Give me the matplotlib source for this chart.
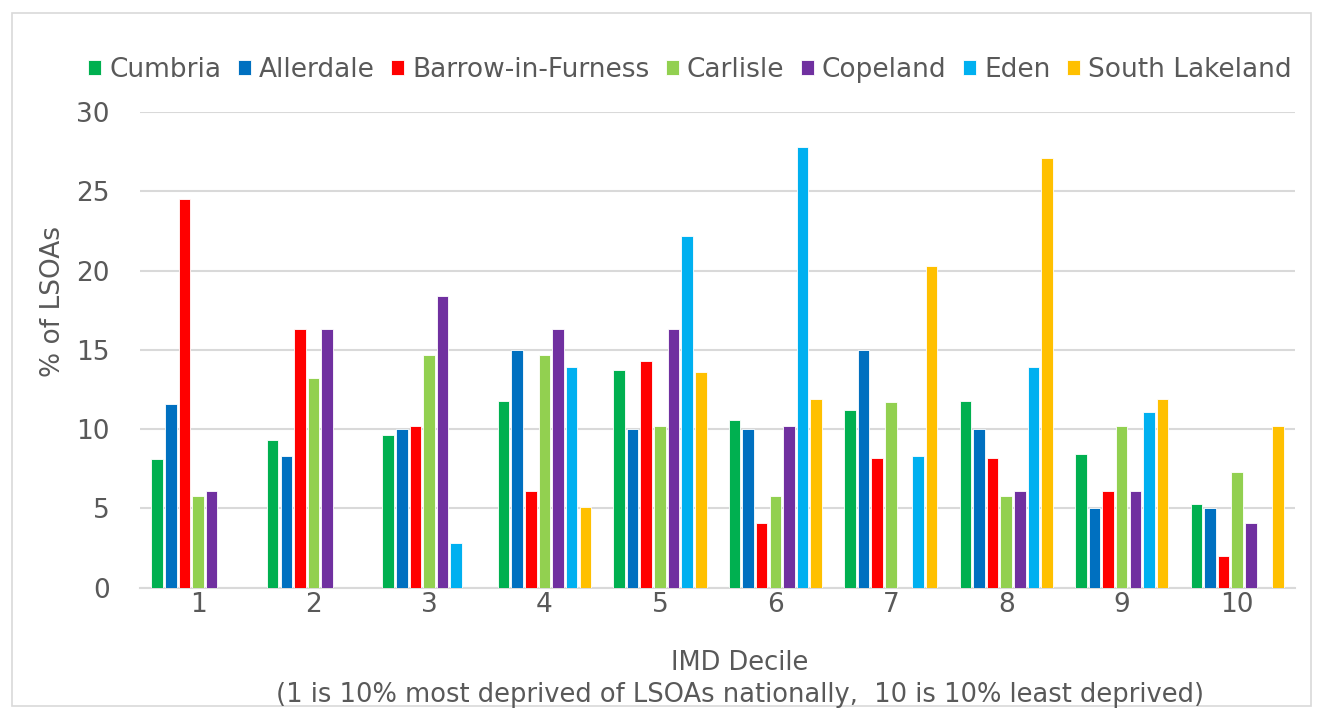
import matplotlib
matplotlib.use("Agg")
import matplotlib.pyplot as plt
import numpy as np
from matplotlib.patches import Rectangle

deciles = ["1", "2", "3", "4", "5", "6", "7", "8", "9", "10"]
series_names = ["Cumbria", "Allerdale", "Barrow-in-Furness", "Carlisle", "Copeland", "Eden", "South Lakeland"]
colors = ["#00B050", "#0070C0", "#FF0000", "#92D050", "#7030A0", "#00B0F0", "#FFC000"]

cumbria = [8.1, 9.3, 9.6, 11.8, 13.7, 10.6, 11.2, 11.8, 8.4, 5.3]
allerdale = [11.6, 8.3, 10.0, 15.0, 10.0, 10.0, 15.0, 10.0, 5.0, 5.0]
barrow = [24.5, 16.3, 10.2, 6.1, 14.3, 4.1, 8.2, 8.2, 6.1, 2.0]
carlisle = [5.8, 13.2, 14.7, 14.7, 10.2, 5.8, 11.7, 5.8, 10.2, 7.3]
copeland = [6.1, 16.3, 18.4, 16.3, 16.3, 10.2, 0, 6.1, 6.1, 4.1]
eden = [0, 0, 2.8, 13.9, 22.2, 27.8, 8.3, 13.9, 11.1, 0]
south_lakeland = [0, 0, 0, 5.1, 13.6, 11.9, 20.3, 27.1, 11.9, 10.2]

all_series = [cumbria, allerdale, barrow, carlisle, copeland, eden, south_lakeland]

plt.rcParams["font.family"] = ["DejaVu Sans"]
text_color = "#595959"
fig = plt.figure(figsize=(13.24, 7.22), dpi=100)
ax = fig.add_axes([0.106, 0.186, 0.872, 0.659])

x = np.arange(1, len(deciles) + 1)
slot = 0.118
for i, (name, vals, c) in enumerate(zip(series_names, all_series, colors)):
    offs = (i - 3) * slot
    ax.bar(x + offs, vals, width=0.1, color=c, edgecolor="white", linewidth=0.6, label=name, zorder=3)

ax.set_xlim(0.5, 10.5)
ax.set_ylim(0, 30)
ax.set_yticks(np.arange(0, 31, 5))
ax.set_xticks(x)
ax.set_xticklabels(deciles)
ax.grid(axis="y", color="#D9D9D9", linewidth=1.5, zorder=0)
for s in ["top", "right", "left"]:
    ax.spines[s].set_visible(False)
ax.spines["bottom"].set_color("#D9D9D9")
ax.spines["bottom"].set_linewidth(1.5)
ax.tick_params(axis="both", length=0, labelsize=19, colors=text_color)
ax.tick_params(axis="x", pad=3)
ax.tick_params(axis="y", pad=22)

fig.text(0.040, 0.583, "% of LSOAs", rotation=90, ha="center", va="center",
         fontsize=19, color=text_color)
fig.text(0.559, 0.082, "IMD Decile", ha="center", va="center", fontsize=18.5, color=text_color)
fig.text(0.559, 0.038, "(1 is 10% most deprived of LSOAs nationally,  10 is 10% least deprived)",
         ha="center", va="center", fontsize=18.5, color=text_color)

leg = fig.legend(loc="center", bbox_to_anchor=(0.521, 0.903), ncol=7, frameon=False,
                 fontsize=19, handlelength=0.5, handleheight=0.5, handletextpad=0.3,
                 columnspacing=0.62)
for t in leg.get_texts():
    t.set_color(text_color)

fig.patches.append(Rectangle((0.009, 0.022), 0.981, 0.96, transform=fig.transFigure,
                             fill=False, edgecolor="#D9D9D9", linewidth=1.2))

fig.savefig("out.png", dpi=100)
